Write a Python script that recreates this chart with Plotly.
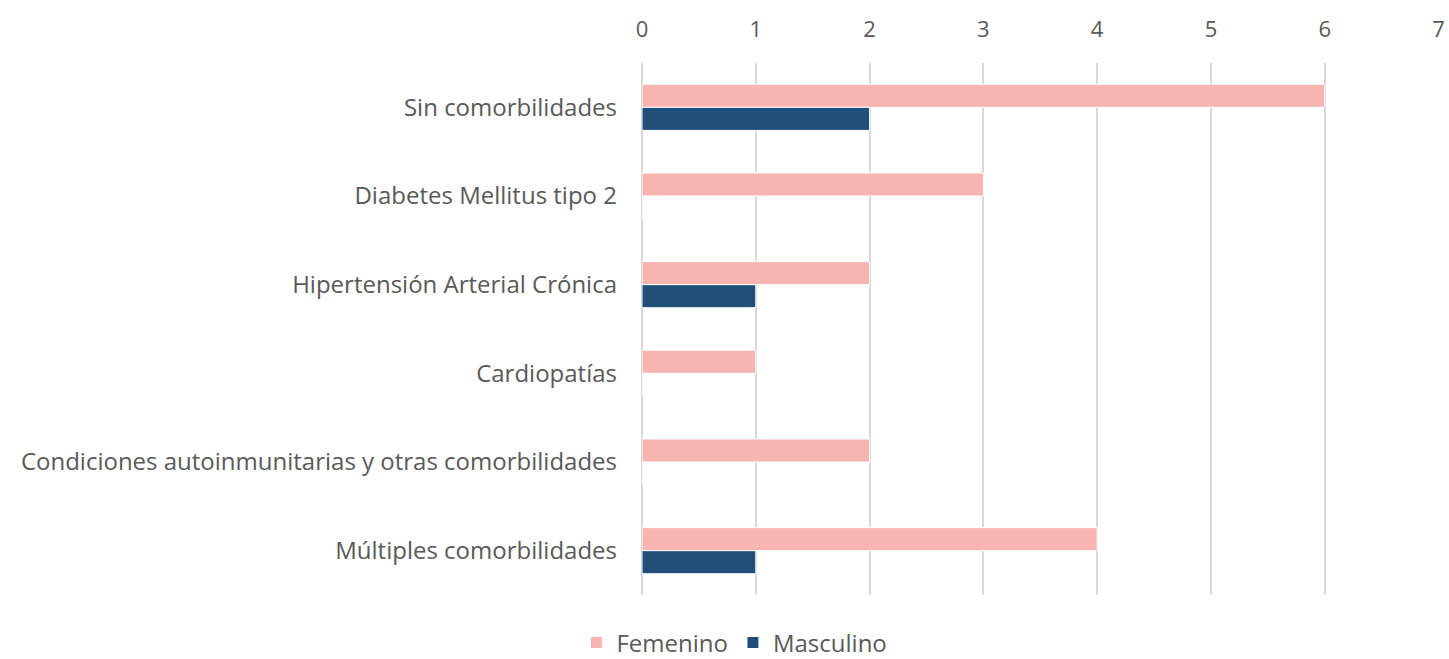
import plotly.graph_objects as go

categories = ["Sin comorbilidades", "Diabetes Mellitus tipo 2", "Hipertensión Arterial Crónica",
              "Cardiopatías", "Condiciones autoinmunitarias y otras comorbilidades",
              "Múltiples comorbilidades"]
femenino = [6, 3, 2, 1, 2, 4]
masculino = [2, 0, 1, 0, 0, 1]
x_ticks = [0, 1, 2, 3, 4, 5, 6, 7]

FONT = "Open Sans"
TXT = "#595959"
GRID = "#D9D9D9"

fig = go.Figure()
fig.add_trace(go.Bar(y=categories, x=femenino, name="Femenino", orientation="h",
                     marker=dict(color="#F7B4B0", line=dict(color="white", width=1))))
fig.add_trace(go.Bar(y=categories, x=masculino, name="Masculino", orientation="h",
                     marker=dict(color="#1F4E79", line=dict(color="white", width=1))))

fig.update_layout(
    width=1449, height=659,
    margin=dict(l=642, r=10, t=63, b=64, autoexpand=False),
    paper_bgcolor="white", plot_bgcolor="white",
    barmode="group", bargap=0.48, bargroupgap=0,
    font=dict(family=FONT, size=24, color=TXT),
    showlegend=True,
    legend=dict(orientation="h", x=0.116, xanchor="center", y=-0.09, yanchor="middle",
                font=dict(size=24, color=TXT), traceorder="normal"),
    xaxis=dict(side="top", range=[0, 7.004], tickvals=x_ticks, showgrid=True,
               gridcolor=GRID, gridwidth=1.5, zeroline=True, zerolinecolor=GRID,
               zerolinewidth=1.5, showline=False, automargin=False,
               ticks="", ticklabelstandoff=21, tickfont=dict(size=22, color=TXT)),
    yaxis=dict(autorange="reversed", showgrid=False, zeroline=False, showline=False,
               automargin=False, ticks="", ticklabelstandoff=24,
               tickfont=dict(size=24, color=TXT)),
)

fig.write_html("out.html", config={"displayModeBar": False},
               post_script="document.body.style.margin='0';document.body.style.overflow='hidden';")
